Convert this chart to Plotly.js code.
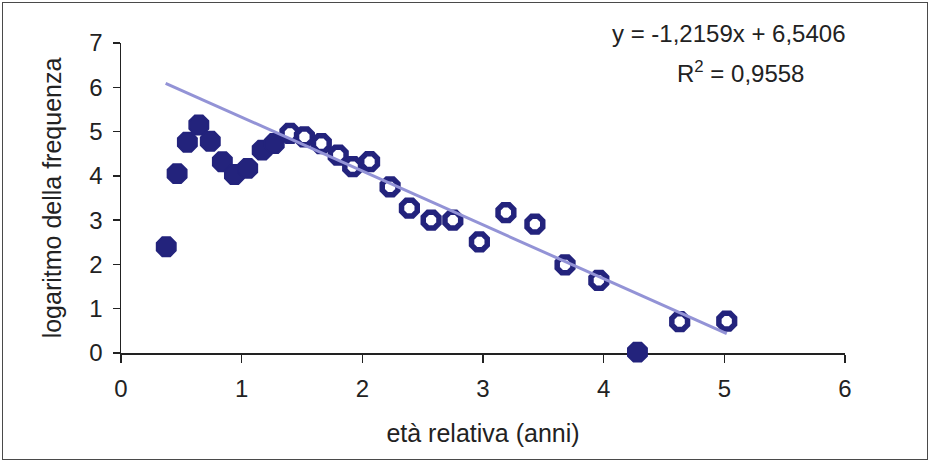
<!DOCTYPE html>
<html>
<head>
<meta charset="utf-8">
<script src="https://cdn.plot.ly/plotly-3.0.1.min.js"></script>
<style>
  html, body { margin: 0; padding: 0; background: #ffffff; }
  #wrap { position: relative; width: 930px; height: 462px; }
  #chart { position: absolute; left: 0; top: 0; width: 930px; height: 462px; }
  #frame { position: absolute; left: 2px; top: 2px; width: 924px; height: 456px; border: 1px solid #4a4a4a; pointer-events: none; }
</style>
</head>
<body>
<div id="wrap">
  <div id="chart"></div>
  <div id="frame"></div>
</div>
<script>
// Filled points (younger age classes, excluded from the fit)
const filledX = [0.375, 0.465, 0.55, 0.645, 0.74, 0.84, 0.94, 1.05, 1.17, 1.27, 4.28];
const filledY = [2.40, 4.05, 4.76, 5.15, 4.78, 4.32, 4.03, 4.17, 4.58, 4.73, 0.02];

// Open points (used for the regression)
const openX = [1.40, 1.52, 1.66, 1.80, 1.92, 2.06, 2.23, 2.39, 2.57, 2.75, 2.97, 3.19, 3.43, 3.68, 3.96, 4.63, 5.02];
const openY = [4.96, 4.88, 4.73, 4.47, 4.21, 4.32, 3.75, 3.27, 3.00, 3.00, 2.51, 3.17, 2.91, 1.99, 1.64, 0.71, 0.72];

// Trend line as printed on the chart
const slope = -1.2159;
const intercept = 6.5406;
const rSquared = "0,9558";
const trendX = [0.37, 5.02];
const trendY = trendX.map(x => slope * x + intercept);

const xTicks = [0, 1, 2, 3, 4, 5, 6];
const yTicks = [0, 1, 2, 3, 4, 5, 6, 7];

const navy = "#23237c";
const font = "Liberation Sans, Arial, sans-serif";

const traces = [
  {
    x: filledX, y: filledY, type: "scatter", mode: "markers", cliponaxis: false,
    marker: { symbol: "octagon", size: 21, color: navy, line: { color: navy, width: 1.5 } },
    hoverinfo: "x+y"
  },
  {
    x: openX, y: openY, type: "scatter", mode: "markers", cliponaxis: false,
    marker: { symbol: "octagon", size: 17, color: "#ffffff", line: { color: navy, width: 5.5 } },
    hoverinfo: "x+y"
  },
  {
    x: trendX, y: trendY, type: "scatter", mode: "lines", cliponaxis: false,
    line: { color: "#9393d6", width: 3 },
    hoverinfo: "skip"
  }
];

const fmtSlope = String(slope).replace(".", ",");
const fmtInt = String(intercept).replace(".", ",");

const layout = {
  width: 930, height: 462,
  margin: { l: 121, r: 85, t: 43, b: 109 },
  paper_bgcolor: "#ffffff", plot_bgcolor: "#ffffff",
  showlegend: false,
  font: { family: font, color: "#222222", size: 24 },
  xaxis: {
    range: [0, 6], tickvals: xTicks, ticktext: xTicks.map(String),
    showgrid: false, zeroline: false, showline: true, linecolor: "#222222", linewidth: 1.5,
    ticks: "outside", ticklen: 8, tickwidth: 1.5, tickcolor: "#222222",
    ticklabelstandoff: 6,
    tickfont: { family: font, size: 24, color: "#222222" },
    layer: "below traces",
    title: { text: "età relativa (anni)", font: { family: font, size: 25, color: "#222222" }, standoff: 23 },
    fixedrange: true
  },
  yaxis: {
    range: [0, 7], tickvals: yTicks, ticktext: yTicks.map(String),
    showgrid: false, zeroline: false, showline: true, linecolor: "#222222", linewidth: 1.5,
    ticks: "outside", ticklen: 7, tickwidth: 1.5, tickcolor: "#222222",
    ticklabelstandoff: 5,
    tickfont: { family: font, size: 24, color: "#222222" },
    layer: "below traces",
    title: { text: "logaritmo della frequenza", font: { family: font, size: 25, color: "#222222" }, standoff: 20 },
    fixedrange: true
  },
  annotations: [
    {
      xref: "paper", yref: "paper", x: 0.84, y: 1.03, xanchor: "center", yanchor: "middle",
      text: "y = " + fmtSlope + "x + " + fmtInt, showarrow: false,
      font: { family: font, size: 24, color: "#222222" }
    },
    {
      xref: "paper", yref: "paper", x: 0.855, y: 0.905, xanchor: "center", yanchor: "middle",
      text: "R<sup>2</sup> = " + rSquared, showarrow: false,
      font: { family: font, size: 24, color: "#222222" }
    }
  ]
};

Plotly.newPlot("chart", traces, layout, { displayModeBar: false, staticPlot: true });
</script>
</body>
</html>
